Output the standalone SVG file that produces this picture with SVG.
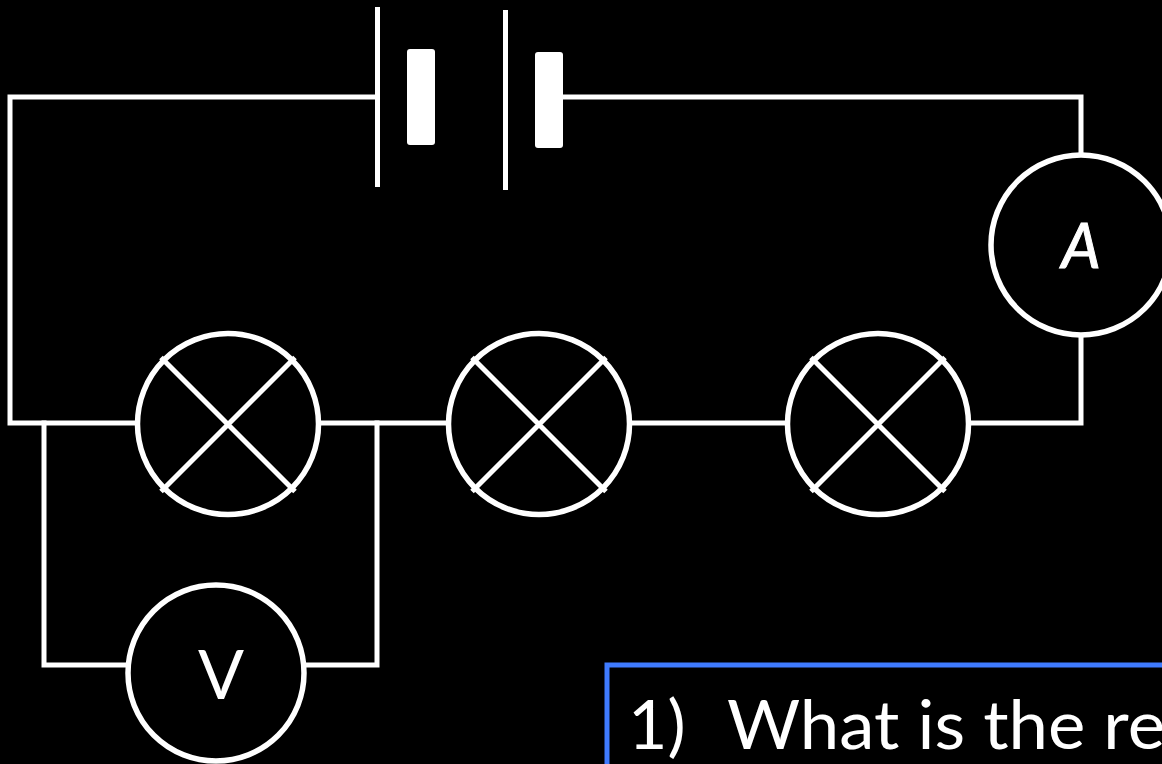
<svg xmlns="http://www.w3.org/2000/svg" width="1162" height="764" viewBox="0 0 1162 764">
<style>
.w{fill:none;stroke:#fff;stroke-width:5;stroke-linecap:square;stroke-linejoin:miter}
.c{fill:#000;stroke:#fff;stroke-width:5.5}
.x{stroke:#fff;stroke-width:5;fill:none}
.t{fill:#fff;font-family:"Comic Sans MS","Lato","Noto Sans",sans-serif}
.b{stroke:#fff;stroke-width:1}
.p{fill:#fff;stroke:none}
</style>
<rect id="background" width="1162" height="764" fill="#000"/>
<g id="connectors">
<path class="w" d="M377 97H10V423H136"/>
<path class="w" d="M562 97H1081V155"/>
<path class="w" d="M1081 337V423H970"/>
<path class="w" d="M320 423H448"/>
<path class="w" d="M632 423H787"/>
<path class="w" d="M44 423V665H128"/>
<path class="w" d="M377 423V665H306"/>
</g>
<g id="battery-cell-1">
<line class="x" x1="377.500" y1="7" x2="377.500" y2="187"/>
<rect class="p" x="407" y="49" width="28" height="96" rx="3"/>
</g>
<g id="battery-cell-2">
<line class="x" x1="505.500" y1="10" x2="505.500" y2="190"/>
<rect class="p" x="535" y="52" width="28" height="96" rx="3"/>
</g>
<g id="lamp-1">
<circle class="c" cx="228" cy="424" r="90.500"/>
<path class="x" d="M161 357.500L295 491.500M295 357.500L161 491.500"/>
</g>
<g id="lamp-2">
<circle class="c" cx="539" cy="424" r="90.500"/>
<path class="x" d="M472 357.500L606 491.500M606 357.500L472 491.500"/>
</g>
<g id="lamp-3">
<circle class="c" cx="878" cy="424" r="90.500"/>
<path class="x" d="M811 357.500L945 491.500M945 357.500L811 491.500"/>
</g>
<g id="ammeter">
<circle class="c" cx="1081" cy="245" r="90"/>
<text class="t b" x="1081" y="268" font-size="62" font-style="italic" text-anchor="middle">A</text>
</g>
<g id="voltmeter">
<circle class="c" cx="216" cy="673" r="88"/>
<text class="t" x="221" y="699" font-size="68" text-anchor="middle">V</text>
</g>
<g id="question-box">
<path d="M1170 665H607V772" fill="none" stroke="#3f7bff" stroke-width="5"/>
<text class="t" font-size="68" y="749"><tspan x="628">1)</tspan><tspan x="727" textLength="438" lengthAdjust="spacingAndGlyphs">What is the re</tspan></text>
</g>
</svg>
